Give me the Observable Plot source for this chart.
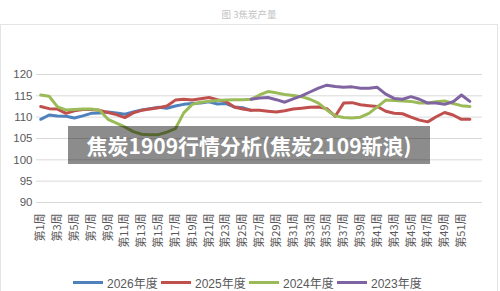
<!DOCTYPE html>
<html>
<head>
<meta charset="utf-8">
<script src="https://cdn.jsdelivr.net/npm/d3@7"></script>
<script src="https://cdn.jsdelivr.net/npm/@observablehq/plot@0.6"></script>
<style>
  body { margin: 0; background: #fff; }
  #wrap { position: relative; width: 500px; height: 291px; overflow: hidden; background: #fff;
          font-family: "Liberation Sans", "Noto Sans CJK SC", sans-serif; }
  #title { position: absolute; top: 7px; left: 0; width: 498px; text-align: center;
           font-size: 9.5px; color: #c2c2c2; font-family: "Noto Sans CJK SC", sans-serif; }
  #frame { position: absolute; left: 0; top: 24px; width: 496px; height: 300px; border: 1px solid #e4e4e4; }
  #chart { position: absolute; left: 0; top: 24px; }
  #legend { position: absolute; left: 73px; top: 274px; display: flex; align-items: center;
            font-size: 12px; color: #595959; }
  #legend .item { display: flex; align-items: center; margin-right: 4px; }
  #legend .swatch { width: 30px; height: 3px; margin-right: 4px; }
  #legend .label { width: 50px; white-space: nowrap; }
  #banner { position: absolute; left: 68px; top: 126px; width: 362px; height: 38px;
            background: rgba(0, 0, 0, 0.45); color: #fff; display: flex; align-items: center;
            justify-content: center; font: bold 21px "Noto Sans CJK SC", sans-serif; letter-spacing: 0; }
</style>
</head>
<body>
<div id="wrap">
  <div id="title">图 3焦炭产量</div>
  <div id="frame"></div>
  <div id="chart"></div>
  <div id="legend"></div>
  <div id="banner">焦炭1909行情分析(焦炭2109新浪)</div>
</div>
<script>
// Weekly coke output (index), one array per season; null where a season has no data
const weeks = d3.range(1, 53);
const tickWeeks = [1, 3, 5, 7, 9, 11, 13, 15, 17, 19, 21, 23, 25, 27, 29, 31, 33, 35, 37, 39, 41, 43, 45, 47, 49, 51];
const yTicks = [90, 95, 100, 105, 110, 115, 120];

const seasons = ["2026年度", "2025年度", "2024年度", "2023年度"];
const colors = ["#4f81bd", "#c0504d", "#9bbb59", "#8064a2"];

const s2026 = [109.5, 110.5, 110.3, 110.2, 109.8, 110.3, 110.9, 111.0, 111.2, 111.0,
               110.7, 111.2, 111.7, 112.0, 112.3, 112.1, 112.6, 113.0, 113.2, 113.3,
               113.6, 113.1, 113.2, 112.4, 112.2, 111.6,
               null, null, null, null, null, null, null, null, null, null,
               null, null, null, null, null, null, null, null, null, null,
               null, null, null, null, null, null];
const s2025 = [112.5, 112.0, 111.9, 110.9, 111.5, 111.8, 111.8, 111.6, 111.1, 110.6,
               109.9, 111.0, 111.6, 111.9, 112.2, 112.6, 114.0, 114.2, 114.0, 114.3,
               114.6, 114.1, 113.7, 112.4, 111.9, 111.6, 111.6, 111.4, 111.2, 111.5,
               111.9, 112.1, 112.3, 112.4, 112.0, 110.2, 113.3, 113.4, 112.9, 112.7,
               112.5, 111.4, 110.9, 110.8, 110.0, 109.3, 108.9, 110.1, 111.1, 110.5,
               109.5, 109.5];
const s2024 = [115.2, 114.9, 112.4, 111.7, 111.8, 111.9, 111.9, 111.6, 109.5, 108.6,
               107.7, 106.6, 106.0, 105.9, 105.9, 106.5, 107.3, 111.0, 113.0, 113.5,
               113.7, 113.9, 114.0, 114.1, 114.1, 114.2, 115.2, 116.0, 115.7, 115.3,
               115.1, 114.8, 114.2, 113.3, 111.7, 110.3, 109.9, 109.8, 110.0, 110.9,
               112.4, 114.0, 113.9, 113.8, 113.7, 113.3, 113.3, 113.6, 113.8, 113.2,
               112.7, 112.5];
const s2023 = [null, null, null, null, null, null, null, null, null, null,
               null, null, null, null, null, null, null, null, null, null,
               null, null, null, null, null, 114.2, 114.5, 114.6, 114.1, 113.5,
               114.3, 115.0, 115.9, 116.8, 117.5, 117.2, 117.0, 117.1, 116.8, 116.8,
               117.0, 115.4, 114.4, 114.2, 114.8, 114.2, 113.3, 113.3, 113.0, 113.6,
               115.2, 113.7];

const seriesValues = [s2026, s2025, s2024, s2023];
const rows = [];
seriesValues.forEach((vals, k) => {
  weeks.forEach((w, i) => {
    if (vals[i] != null) rows.push({season: seasons[k], week: w, value: vals[i]});
  });
});

const font = '"Liberation Sans", "Noto Sans CJK SC", sans-serif';

const chart = Plot.plot({
  width: 500,
  height: 245,
  marginLeft: 36,
  marginRight: 18,
  marginTop: 50,
  marginBottom: 67,
  style: {fontFamily: font, fontSize: "11.5px", color: "#595959", background: "transparent"},
  x: {domain: [0.5, 53.5], axis: null, label: null},
  y: {domain: [90, 120], axis: null, label: null},
  color: {domain: seasons, range: colors},
  marks: [
    Plot.ruleY(yTicks, {stroke: "#d9d9d9", strokeWidth: 1}),
    Plot.axisY({ticks: yTicks, label: null, tickSize: 0, tickPadding: 4, fontSize: 11.5, fill: "#595959"}),
    Plot.axisX({ticks: tickWeeks, label: null, tickFormat: (w) => `第${w}周`, tickRotate: -90,
                tickSize: 0, tickPadding: 11, fontSize: 11, fill: "#595959",
                fontFamily: '"Noto Sans CJK SC", sans-serif'}),
    Plot.line(rows, {x: "week", y: "value", z: "season", stroke: "season",
                     strokeWidth: 3, strokeLinejoin: "round", strokeLinecap: "round"})
  ]
});
document.getElementById("chart").appendChild(chart);

// Legend below the plot
const legend = document.getElementById("legend");
seasons.forEach((s, k) => {
  const item = document.createElement("div");
  item.className = "item";
  const sw = document.createElement("div");
  sw.className = "swatch";
  sw.style.background = colors[k];
  const lab = document.createElement("div");
  lab.className = "label";
  lab.textContent = s;
  item.appendChild(sw);
  item.appendChild(lab);
  legend.appendChild(item);
});
</script>
</body>
</html>
